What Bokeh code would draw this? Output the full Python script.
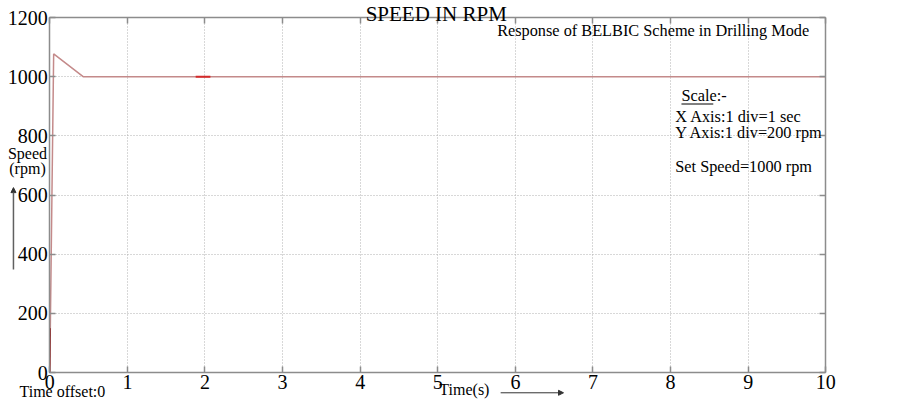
from bokeh.plotting import figure
from bokeh.models import Range1d, FixedTicker, LinearAxis, Label, Arrow, NormalHead, Grid
from bokeh.embed import file_html
from bokeh.resources import INLINE

# ---- data ----
time_s = [0.0, 0.05, 0.43, 10.0]
speed_rpm = [0.0, 1077.0, 1000.0, 1000.0]
start_time = [0.0, 0.005]
start_speed = [0.0, 150.0]
mark_time = [1.88, 2.07]
mark_speed = [1000.0, 1000.0]
x_ticks = [0, 1, 2, 3, 4, 5, 6, 7, 8, 9, 10]
y_ticks = [0, 200, 400, 600, 800, 1000, 1200]

FONT = "Liberation Serif"
GRAY = "#8c8c8c"

W, H = 887, 400
# frame covers the whole canvas; data area 0..10 x 0..1200
p = figure(width=W, height=H, output_backend="svg", toolbar_location=None,
           x_range=Range1d(-0.635, 10.795), y_range=Range1d(-94.65, 1257.5),
           min_border=0, min_border_left=0, min_border_right=0,
           min_border_top=0, min_border_bottom=0)
p.background_fill_color = "white"
p.border_fill_color = "white"
p.outline_line_color = None

def style_axis(ax):
    ax.major_tick_in = 6
    ax.major_tick_out = 0
    ax.minor_tick_in = 0
    ax.minor_tick_out = 0
    ax.axis_line_color = GRAY
    ax.axis_line_width = 1.5
    ax.major_tick_line_color = GRAY
    ax.major_tick_line_width = 1.5
    ax.major_label_text_font = FONT
    ax.major_label_text_font_size = "20px"
    ax.major_label_text_color = "black"
    ax.major_label_standoff = 2

xa = p.xaxis[0]
ya = p.yaxis[0]
style_axis(xa)
style_axis(ya)
xa.ticker = FixedTicker(ticks=x_ticks)
ya.ticker = FixedTicker(ticks=y_ticks)
xa.fixed_location = 0
ya.fixed_location = 0
xa.bounds = (0, 10)
ya.bounds = (0, 1200)

top = LinearAxis(ticker=FixedTicker(ticks=x_ticks), fixed_location=1200, bounds=(0, 10))
right = LinearAxis(ticker=FixedTicker(ticks=y_ticks), fixed_location=10, bounds=(0, 1200))
style_axis(top)
style_axis(right)
top.major_label_overrides = {t: "" for t in x_ticks}
right.major_label_overrides = {t: "" for t in y_ticks}
p.add_layout(top, "above")
p.add_layout(right, "right")

p.xgrid.ticker = FixedTicker(ticks=x_ticks)
p.ygrid.ticker = FixedTicker(ticks=y_ticks)
if "cross_bounds" in Grid.properties():
    p.xgrid.cross_bounds = (0, 1200)
    p.ygrid.cross_bounds = (0, 10)
    for g in (p.xgrid[0], p.ygrid[0]):
        g.grid_line_color = "#b0b0b0"
        g.grid_line_dash = "1 2"
        g.grid_line_width = 1
else:
    p.xgrid.visible = False
    p.ygrid.visible = False
    p.segment(x0=x_ticks, y0=[0] * len(x_ticks), x1=x_ticks, y1=[1200] * len(x_ticks),
              line_color="#b0b0b0", line_dash="1 2", line_width=1, level="underlay")
    p.segment(x0=[0] * len(y_ticks), y0=y_ticks, x1=[10] * len(y_ticks), y1=y_ticks,
              line_color="#b0b0b0", line_dash="1 2", line_width=1, level="underlay")

p.line(time_s, speed_rpm, line_color="#c48a8a", line_width=1.5)
p.line(start_time, start_speed, line_color="#8b1a1a", line_width=1.5)
p.line(mark_time, mark_speed, line_color="#d42a2a", line_width=2)

def lab(x, y, text, size, align="left"):
    p.add_layout(Label(x=x, y=y, text=text, text_font=FONT, text_font_size=size,
                       text_color="black", text_align=align, text_baseline="alphabetic"))

lab(4.98, 1213, "SPEED IN RPM", "21px", "center")
lab(5.765, 1154.4, "Response of BELBIC Scheme in Drilling Mode", "16.3px")
lab(8.14, 937, "Scale:-", "16.3px")
lab(8.06, 863.7, "X Axis:1 div=1 sec", "16.3px")
lab(8.06, 811, "Y Axis:1 div=200 rpm", "16.3px")
lab(8.06, 698, "Set Speed=1000 rpm", "16.3px")
lab(-0.287, 740.6, "Speed", "16px", "center")
lab(-0.287, 690, "(rpm)", "16px", "center")
lab(-0.39, -63.9, "Time offset:0", "16px")
lab(5.02, -57.1, "Time(s)", "16px")

p.line([8.14, 8.55], [907.6, 907.6], line_color="black", line_width=1)

p.add_layout(Arrow(x_start=-0.468, y_start=348, x_end=-0.468, y_end=625,
                   line_color="#606060", line_width=1.5,
                   end=NormalHead(size=5, line_color="#333333", fill_color="#333333")))
p.add_layout(Arrow(x_start=5.81, y_start=-68.6, x_end=6.62, y_end=-68.6,
                   line_color="#333333", line_width=1,
                   end=NormalHead(size=5, line_color="#333333", fill_color="#333333")))

open("out.html", "w").write(file_html(p, INLINE))
